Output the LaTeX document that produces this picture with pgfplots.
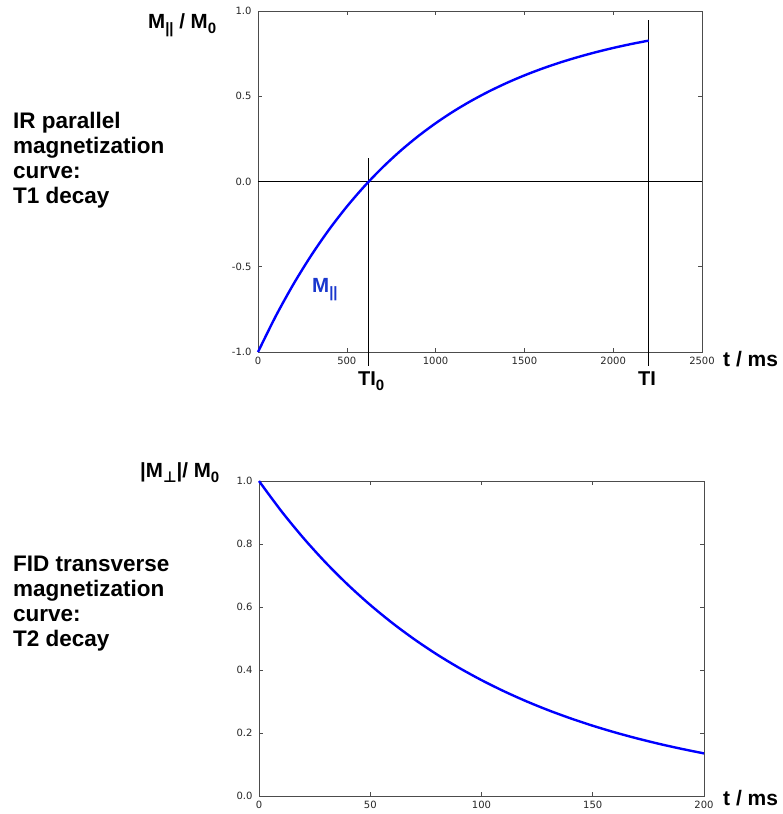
\documentclass[border=0pt]{standalone}
\usepackage{fontspec}
\setmainfont{DejaVu Sans}
\newfontfamily\lib{Liberation Sans}
\usepackage{pgfplots}
\pgfplotsset{compat=1.18}
\definecolor{curveblue}{RGB}{0,0,255}
\definecolor{labblue}{RGB}{25,55,205}
\newcommand{\sub}[1]{\raisebox{-0.28em}{\fontsize{15}{15}\selectfont #1}}
\pgfplotsset{my/.style={
  scale only axis, clip=false,
  axis line style={black!70, line width=0.8pt},
  tick align=inside, xtick pos=both, ytick pos=both,
  tick style={black!70, line width=0.6pt},
  major tick length=4pt,
  tick label style={font=\fontsize{10}{11}\selectfont, text=black!85},
  /pgf/number format/assume math mode=true,
  yticklabel style={xshift=-3pt, /pgf/number format/.cd,fixed,fixed zerofill,precision=1},
  xticklabel style={yshift=-2pt, /pgf/number format/.cd,fixed,1000 sep={}},
}}
\begin{document}
\begin{tikzpicture}
\path[use as bounding box] (0pt,0pt) rectangle (782pt,-814pt);
\begin{axis}[my, at={(258pt,-352pt)}, anchor=south west,
  width=444pt, height=341pt,
  xmin=0, xmax=2500, ymin=-1, ymax=1,
  xtick={0,500,1000,1500,2000,2500}, ytick={-1,-0.5,0,0.5,1}]
\addplot[black, line width=0.9pt] coordinates {(0,0) (2500,0)};
\addplot[black, line width=0.9pt] coordinates {(624,-1.08) (624,0.14)};
\addplot[black, line width=0.9pt] coordinates {(2200,-1.08) (2200,0.95)};
\addplot[curveblue, line width=2.4pt, smooth] coordinates {
(0,-1.0000) (100,-0.7897) (200,-0.6015) (300,-0.4331) (400,-0.2823)
(500,-0.1475) (600,-0.0268) (700,0.0811) (800,0.1778) (900,0.2642)
(1000,0.3416) (1100,0.4109) (1200,0.4728) (1300,0.5282) (1400,0.5779)
(1500,0.6223) (1600,0.6620) (1700,0.6976) (1800,0.7293) (1900,0.7578)
(2000,0.7833) (2100,0.8061) (2200,0.8264)};
\end{axis}
\begin{axis}[my, at={(259pt,-796pt)}, anchor=south west,
  width=445pt, height=315pt,
  xmin=0, xmax=200, ymin=0, ymax=1,
  xtick={0,50,100,150,200}, ytick={0,0.2,0.4,0.6,0.8,1.0}]
\addplot[curveblue, line width=2.4pt, smooth] coordinates {
(0,1.0000) (10,0.9048) (20,0.8187) (30,0.7408) (40,0.6703) (50,0.6065)
(60,0.5488) (70,0.4966) (80,0.4493) (90,0.4066) (100,0.3679) (110,0.3329)
(120,0.3012) (130,0.2725) (140,0.2466) (150,0.2231) (160,0.2019)
(170,0.1827) (180,0.1653) (190,0.1496) (200,0.1353)};
\end{axis}
\tikzset{big/.style={anchor=base west, inner sep=0pt, font=\lib\bfseries\fontsize{22.5}{25}\selectfont}}
\tikzset{mid/.style={anchor=base west, inner sep=0pt, font=\lib\bfseries\fontsize{20.5}{22}\selectfont}}
\node[big] at (13pt,-128pt) {IR parallel};
\node[big] at (13pt,-153pt) {magnetization};
\node[big] at (13pt,-178pt) {curve:};
\node[big] at (13pt,-203pt) {T1 decay};
\node[big] at (13pt,-571pt) {FID transverse};
\node[big] at (13pt,-596pt) {magnetization};
\node[big] at (13pt,-621pt) {curve:};
\node[big] at (13pt,-646pt) {T2 decay};
\node[mid] at (148pt,-28pt) {M\sub{||} / M\sub{0}};
\node[mid] at (140pt,-477pt) {|M\sub{\rmfamily\bfseries ⊥}|/ M\sub{0}};
\node[big, font=\lib\bfseries\fontsize{21}{24}\selectfont] at (723pt,-366pt) {t / ms};
\node[big, font=\lib\bfseries\fontsize{21}{24}\selectfont] at (723pt,-805pt) {t / ms};
\node[big, font=\lib\bfseries\fontsize{20}{24}\selectfont] at (358pt,-385pt) {TI\sub{0}};
\node[big, font=\lib\bfseries\fontsize{20}{24}\selectfont, anchor=base] at (647pt,-385pt) {TI};
\node[mid, text=labblue] at (312pt,-292pt) {M\sub{||}};
\end{tikzpicture}
\end{document}
